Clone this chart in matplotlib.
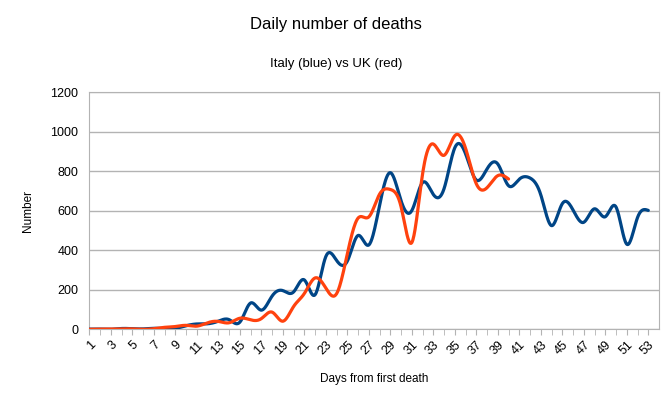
import matplotlib
matplotlib.use("Agg")
import matplotlib.pyplot as plt
import numpy as np

plt.rcParams['font.family'] = ['Liberation Sans', 'DejaVu Sans']

# Daily deaths, counted from each country's first death
italy = [1, 1, 0, 4, 3, 2, 5, 4, 5, 18, 27, 28, 41, 49, 36, 133, 97, 168, 196,
         189, 250, 175, 368, 349, 345, 475, 427, 627, 793, 651, 601, 743, 683,
         712, 919, 889, 756, 812, 837, 727, 760, 766, 681, 525, 636, 604, 542,
         610, 570, 619, 431, 566, 602]
uk = [0, 1, 1, 2, 2, 0, 3, 10, 14, 20, 16, 33, 40, 33, 56, 48, 54, 87, 41,
      115, 181, 260, 209, 180, 381, 563, 569, 684, 708, 621, 439, 786, 938,
      881, 980, 917, 737, 717, 778, 761]
day_labels = [str(d) for d in range(1, 54, 2)]


def natural_spline(x, y, n=20):
    # natural cubic spline, like the "cubic spline" line type in LibreOffice
    x = np.asarray(x, float)
    y = np.asarray(y, float)
    m = len(x)
    h = np.diff(x)
    A = np.zeros((m, m))
    b = np.zeros(m)
    A[0, 0] = A[-1, -1] = 1
    for i in range(1, m - 1):
        A[i, i - 1] = h[i - 1]
        A[i, i] = 2 * (h[i - 1] + h[i])
        A[i, i + 1] = h[i]
        b[i] = 6 * ((y[i + 1] - y[i]) / h[i] - (y[i] - y[i - 1]) / h[i - 1])
    M = np.linalg.solve(A, b)
    xs, ys = [], []
    for i in range(m - 1):
        t = np.linspace(x[i], x[i + 1], n, endpoint=False)
        a = x[i + 1] - t
        c = t - x[i]
        s = (M[i] * a ** 3 + M[i + 1] * c ** 3) / (6 * h[i]) \
            + (y[i] / h[i] - M[i] * h[i] / 6) * a \
            + (y[i + 1] / h[i] - M[i + 1] * h[i] / 6) * c
        xs.append(t)
        ys.append(s)
    xs.append([x[-1]])
    ys.append([y[-1]])
    return np.concatenate(xs), np.concatenate(ys)


fig = plt.figure(figsize=(6.72, 4.05), dpi=100)
ax = fig.add_axes([0.1329, 0.1869, 0.8478, 0.5852])

ix, iy = natural_spline(np.arange(1, len(italy) + 1), italy)
ux, uy = natural_spline(np.arange(1, len(uk) + 1), uk)
ax.plot(ix, iy, color='#004586', lw=2.3, solid_capstyle='round', zorder=3)
ax.plot(ux, uy, color='#ff420e', lw=2.3, solid_capstyle='round', zorder=4)

ax.set_xlim(1, 54)
ax.set_ylim(0, 1200)
ax.set_yticks(range(0, 1201, 200))
ax.set_xticks(range(1, 54), minor=True)
ax.set_xticks(range(1, 54, 2))
ax.set_xticklabels(day_labels, rotation=45, ha='right', va='top',
                   rotation_mode='anchor')
ax.tick_params(axis='x', which='both', length=4, color='#b3b3b3',
               labelsize=9, pad=3)
ax.tick_params(axis='y', length=0, labelsize=9, pad=8)
ax.grid(axis='y', color='#b3b3b3', lw=1)
ax.set_axisbelow(True)
for sp in ax.spines.values():
    sp.set_color('#b3b3b3')

ax.set_ylabel('Number', fontsize=8.5, labelpad=12)
ax.set_xlabel('Days from first death', fontsize=8.5, labelpad=11)
fig.text(0.5, 1 - 24 / 405, 'Daily number of deaths', ha='center',
         va='center', fontsize=12)
fig.text(0.5, 1 - 64 / 405, 'Italy (blue) vs UK (red)', ha='center',
         va='center', fontsize=9.5)

fig.savefig('out.png', dpi=100)
